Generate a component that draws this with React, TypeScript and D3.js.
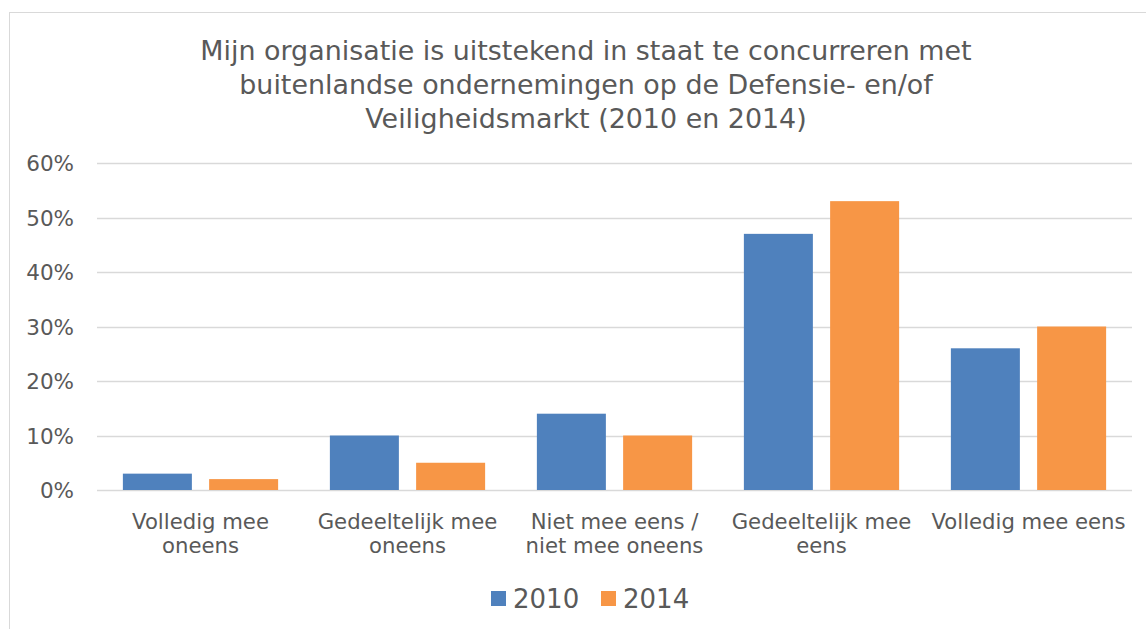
import React, { useEffect, useRef } from "react";
import * as d3 from "d3";

const categories = [
  ["Volledig mee", "oneens"],
  ["Gedeeltelijk mee", "oneens"],
  ["Niet mee eens /", "niet mee oneens"],
  ["Gedeeltelijk mee", "eens"],
  ["Volledig mee eens"],
];
const years = ["2010", "2014"];
const values2010 = [3, 10, 14, 47, 26];
const values2014 = [2, 5, 10, 53, 30];
const yTicks = [0, 10, 20, 30, 40, 50, 60];
const titleLines = [
  "Mijn organisatie is uitstekend in staat te concurreren met",
  "buitenlandse ondernemingen op de Defensie- en/of",
  "Veiligheidsmarkt (2010 en 2014)",
];
const colors = ["#4F81BD", "#F79646"];

export default function App() {
  const ref = useRef<SVGSVGElement>(null);

  useEffect(() => {
    const width = 1146;
    const height = 629;
    const margin = { top: 163, right: 14, bottom: 139, left: 97 };
    const font = "DejaVu Sans, Verdana, sans-serif";
    const textColor = "#595959";

    const svg = d3.select(ref.current);
    svg.selectAll("*").remove();

    // chart frame
    svg
      .append("rect")
      .attr("x", 9.5)
      .attr("y", 12.5)
      .attr("width", 1200)
      .attr("height", 700)
      .attr("fill", "white")
      .attr("stroke", "#D9D9D9")
      .attr("stroke-width", 1);

    const data = categories.map((c, i) => ({
      idx: i,
      vals: [values2010[i], values2014[i]],
    }));

    const x = d3
      .scaleBand<number>()
      .domain(data.map((d) => d.idx))
      .range([margin.left, width - margin.right]);
    const xInner = d3
      .scaleBand<number>()
      .domain([0, 1])
      .range([x.bandwidth() * 0.125, x.bandwidth() * 0.875])
      .paddingInner(0.2);
    const y = d3
      .scaleLinear()
      .domain([0, 60])
      .range([height - margin.bottom, margin.top]);

    // gridlines
    svg
      .append("g")
      .selectAll("line")
      .data(yTicks)
      .enter()
      .append("line")
      .attr("x1", margin.left)
      .attr("x2", width - margin.right)
      .attr("y1", (d) => Math.round(y(d)) + 0.5)
      .attr("y2", (d) => Math.round(y(d)) + 0.5)
      .attr("stroke", "#D9D9D9")
      .attr("stroke-width", 1.5);

    svg
      .append("g")
      .selectAll("text")
      .data(yTicks)
      .enter()
      .append("text")
      .attr("x", 74)
      .attr("y", (d) => y(d) + 8)
      .attr("text-anchor", "end")
      .attr("font-family", font)
      .attr("font-size", 21.5)
      .attr("fill", textColor)
      .text((d) => d + "%");

    // bars
    const groups = svg
      .append("g")
      .selectAll("g")
      .data(data)
      .enter()
      .append("g")
      .attr("transform", (d) => `translate(${x(d.idx)},0)`);
    groups
      .selectAll("rect")
      .data((d) => d.vals)
      .enter()
      .append("rect")
      .attr("x", (d, i) => xInner(i)!)
      .attr("width", xInner.bandwidth())
      .attr("y", (d) => y(d))
      .attr("height", (d) => y(0) - y(d))
      .attr("fill", (d, i) => colors[i]);

    // category labels
    groups
      .append("text")
      .attr("text-anchor", "middle")
      .attr("font-family", font)
      .attr("font-size", 21.2)
      .attr("fill", textColor)
      .selectAll("tspan")
      .data((d) => categories[d.idx].map((line) => ({ line, bw: x.bandwidth() })))
      .enter()
      .append("tspan")
      .attr("x", (d) => d.bw / 2)
      .attr("y", (d, i) => 529 + i * 24)
      .text((d) => d.line);

    // title
    svg
      .append("text")
      .attr("text-anchor", "middle")
      .attr("font-family", font)
      .attr("font-size", 26.9)
      .attr("fill", textColor)
      .selectAll("tspan")
      .data(titleLines)
      .enter()
      .append("tspan")
      .attr("x", 586)
      .attr("y", (d, i) => 60 + i * 34)
      .text((d) => d);

    // legend
    const legend = svg
      .append("g")
      .selectAll("g")
      .data(years)
      .enter()
      .append("g")
      .attr("transform", (d, i) => `translate(${491 + i * 110},0)`);
    legend
      .append("rect")
      .attr("x", 0)
      .attr("y", 591)
      .attr("width", 15)
      .attr("height", 15)
      .attr("fill", (d, i) => colors[i]);
    legend
      .append("text")
      .attr("x", 22)
      .attr("y", 608)
      .attr("font-family", font)
      .attr("font-size", 26)
      .attr("fill", textColor)
      .text((d) => d);
  }, []);

  return (
    <svg
      ref={ref}
      width={1146}
      height={629}
      style={{ position: "absolute", left: 0, top: 0, background: "white" }}
    />
  );
}
